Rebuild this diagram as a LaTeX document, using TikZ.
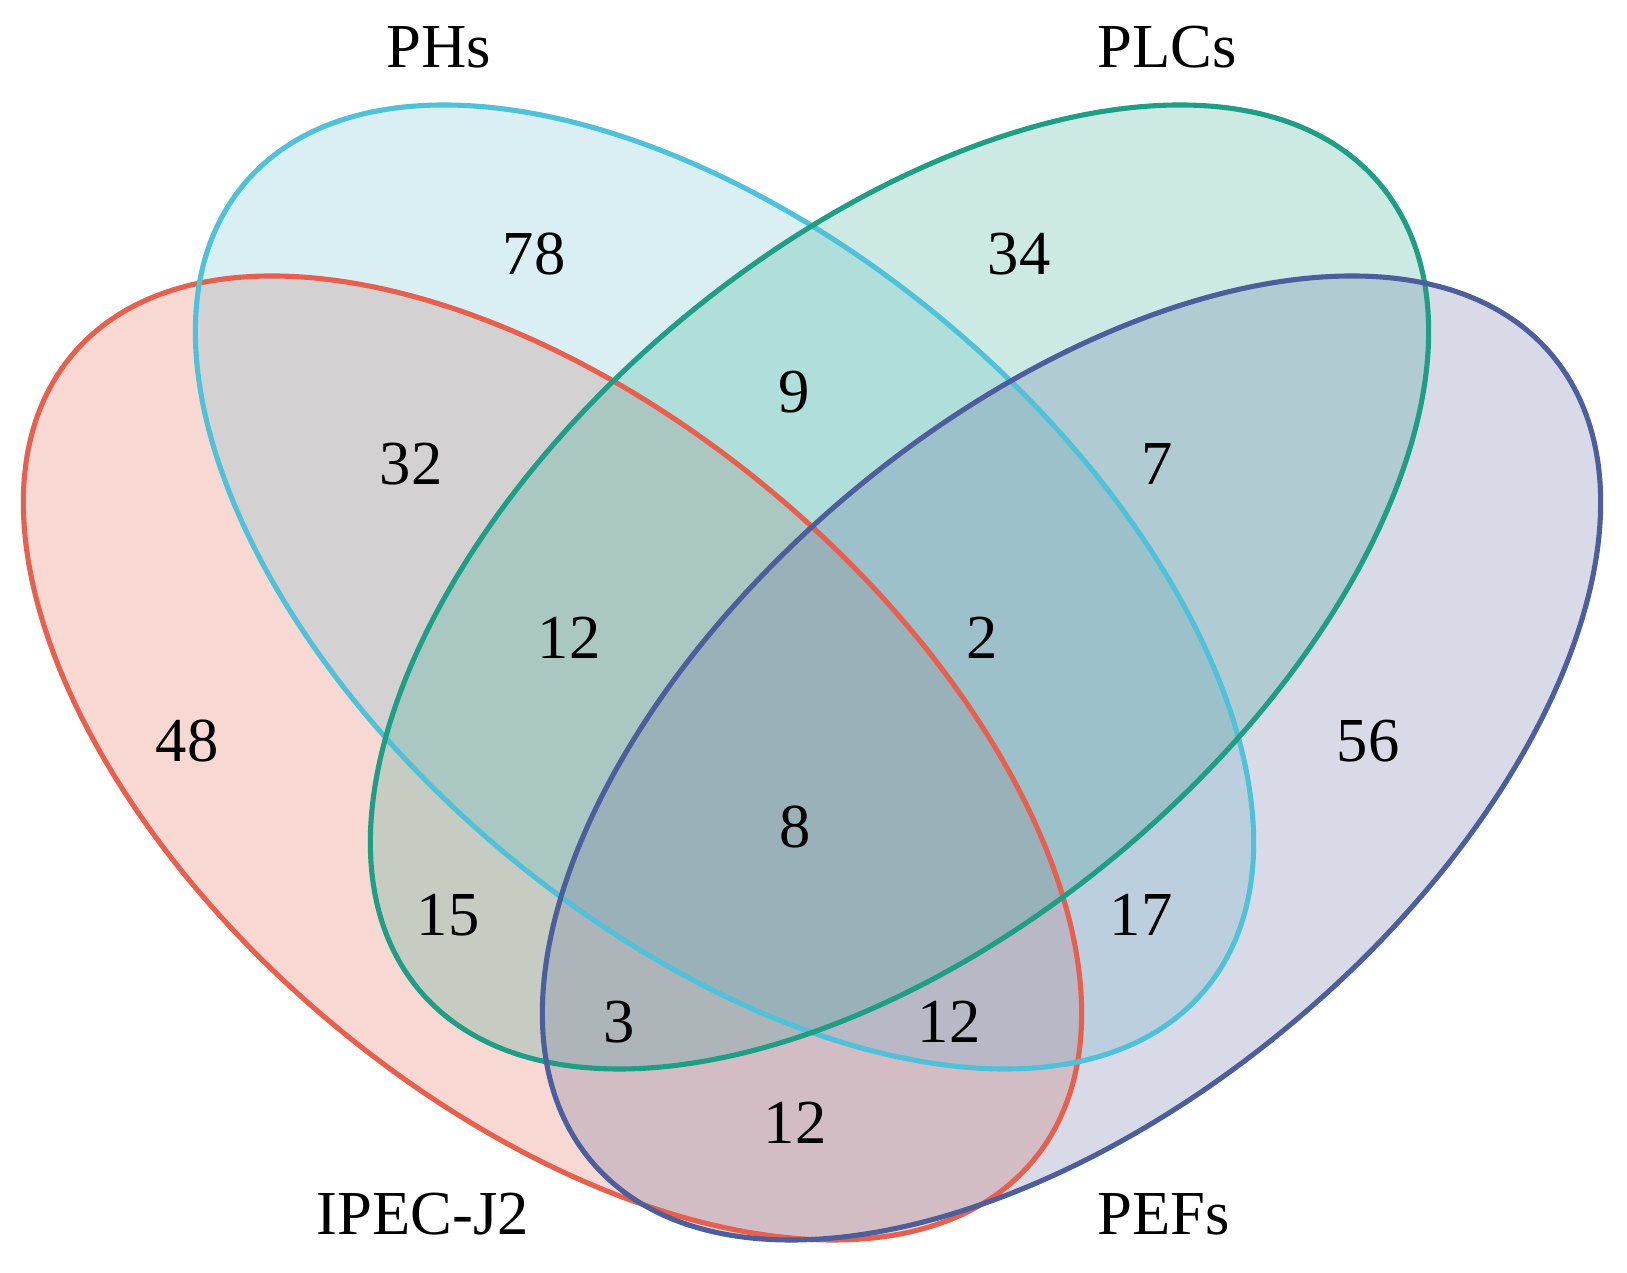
\documentclass[tikz,border=0pt]{standalone}
\usepackage{fontspec}
\setmainfont{Liberation Serif}
\usepackage{tikz}
\usetikzlibrary{positioning}
\definecolor{ipecline}{HTML}{E8604D}
\definecolor{ipecfill}{HTML}{E3634F}
\definecolor{phsline}{HTML}{4FC1D9}
\definecolor{phsfill}{HTML}{6BBFD3}
\definecolor{plcsline}{HTML}{1E9E85}
\definecolor{plcsfill}{HTML}{33AB8F}
\definecolor{pefsline}{HTML}{4D5E9C}
\definecolor{pefsfill}{HTML}{636F9F}
\tikzstyle{setfill} = [fill opacity=0.25]
\tikzstyle{setline} = [line width=1.45pt]
\tikzstyle{count} = [font=\fontsize{17.8}{20}\selectfont, inner sep=0pt]
\tikzstyle{setname} = [font=\fontsize{17.8}{20}\selectfont, inner sep=0pt]

\begin{document}
\begin{tikzpicture}[x=0.01cm, y=0.01cm]
            \useasboundingbox (0,0) rectangle (1627,1273);
            % fills first, outlines on top
            \fill [setfill, fill=ipecfill] (552.5,515) ellipse [x radius=627, y radius=345, rotate=-40];
            \fill [setfill, fill=phsfill] (724.5,686) ellipse [x radius=627, y radius=345, rotate=-40];
            \fill [setfill, fill=plcsfill] (899.5,686) ellipse [x radius=627, y radius=345, rotate=40];
            \fill [setfill, fill=pefsfill] (1071.5,515) ellipse [x radius=627, y radius=345, rotate=40];
            \draw [setline, draw=ipecline] (552.5,515) ellipse [x radius=627, y radius=345, rotate=-40];
            \draw [setline, draw=phsline] (724.5,686) ellipse [x radius=627, y radius=345, rotate=-40];
            \draw [setline, draw=plcsline] (899.5,686) ellipse [x radius=627, y radius=345, rotate=40];
            \draw [setline, draw=pefsline] (1071.5,515) ellipse [x radius=627, y radius=345, rotate=40];

            \node (phs) [setname] at (439,1226) {PHs};
            \node (plcs) [setname] at (1167,1226) {PLCs};
            \node (ipec) [setname] at (423,59) {IPEC-J2};
            \node (pefs) [setname] at (1164,59) {PEFs};

            \node (n78) [count] at (534,1019) {78};
            \node (n34) [count] at (1019,1019) {34};
            \node (n9) [count] at (794,881) {9};
            \node (n32) [count] at (411,809) {32};
            \node (n7) [count] at (1157,809) {7};
            \node (n12a) [count] at (569,635) {12};
            \node (n2) [count] at (982,635) {2};
            \node (n48) [count] at (187,532) {48};
            \node (n56) [count] at (1368,532) {56};
            \node (n8) [count] at (795,446) {8};
            \node (n15) [count] at (448,358) {15};
            \node (n17) [count] at (1141,358) {17};
            \node (n3) [count] at (619,251) {3};
            \node (n12b) [count] at (949,251) {12};
            \node (n12c) [count] at (795,150) {12};
        \end{tikzpicture}
\end{document}
